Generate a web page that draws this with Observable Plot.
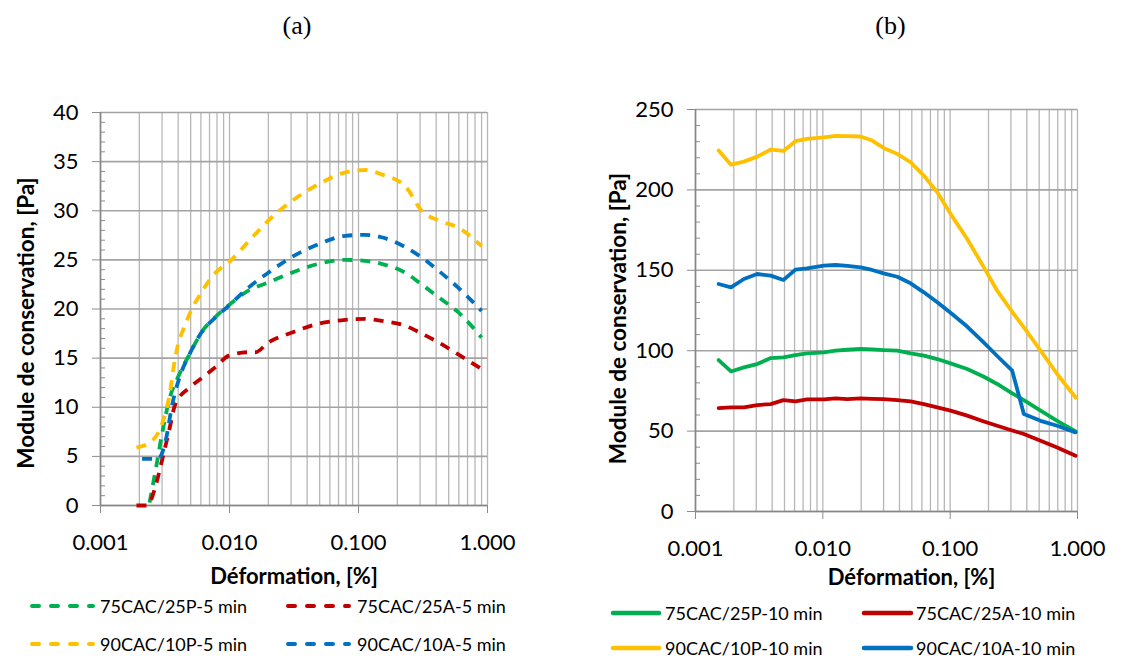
<!DOCTYPE html>
<html><head><meta charset="utf-8">
<script src="https://cdn.jsdelivr.net/npm/d3@7"></script>
<script src="https://cdn.jsdelivr.net/npm/@observablehq/plot@0.6"></script>
<style>
body{margin:0;background:#fff;}
#root{position:relative;width:1145px;height:658px;overflow:hidden;font-family:Lato,sans-serif;background:#fff;}
.panel{position:absolute;top:0;}
.lt{position:absolute;font-family:Lato,sans-serif;font-size:18px;line-height:24px;height:24px;white-space:nowrap;color:#000;}
.sw{position:absolute;overflow:visible;}
</style></head><body><div id="root"></div>
<script>
// ---- Panel (a): 5 min (dashed) ----
const titleA = "(a)";
const x75P5 = [0.0024, 0.0027, 0.003, 0.0034, 0.0041, 0.0049, 0.0062, 0.0078, 0.0099, 0.0141, 0.02, 0.0305, 0.049, 0.079, 0.112, 0.151, 0.23, 0.309, 0.417, 0.59, 0.9];
const g75P5 = [0.3, 3.9, 7.3, 10.7, 13.4, 15.4, 17.8, 19.2, 20.4, 21.9, 22.7, 23.7, 24.6, 25.0, 24.9, 24.6, 23.7, 22.5, 21.2, 19.7, 17.1];
const x75A5 = [0.0019, 0.0023, 0.0027, 0.003, 0.0034, 0.0038, 0.0049, 0.0062, 0.0078, 0.0099, 0.0141, 0.0159, 0.02, 0.0305, 0.049, 0.079, 0.112, 0.151, 0.23, 0.309, 0.417, 0.59, 0.9];
const g75A5 = [0, 0, 2.2, 4.6, 7.6, 10.3, 12.0, 13.05, 14.1, 15.25, 15.6, 15.6, 16.6, 17.6, 18.5, 18.9, 19.0, 18.8, 18.3, 17.5, 16.6, 15.4, 13.9];
const x90P5 = [0.0019, 0.0024, 0.003, 0.0034, 0.0038, 0.0047, 0.0062, 0.0078, 0.0099, 0.0141, 0.02, 0.0305, 0.049, 0.079, 0.112, 0.151, 0.23, 0.309, 0.417, 0.59, 0.9];
const g90P5 = [5.9, 6.4, 8.3, 11, 15.1, 18.9, 21.9, 23.7, 24.75, 26.9, 29.0, 31.0, 32.7, 33.9, 34.15, 33.7, 32.5, 30.0, 29.0, 28.3, 26.4];
const x90A5 = [0.0021, 0.0028, 0.0032, 0.0036, 0.0041, 0.0049, 0.0062, 0.0078, 0.0099, 0.0141, 0.02, 0.0305, 0.049, 0.079, 0.112, 0.151, 0.23, 0.309, 0.417, 0.59, 0.9];
const g90A5 = [4.75, 4.75, 6.6, 10.3, 13.05, 15.4, 17.8, 19.15, 20.35, 22.2, 23.7, 25.3, 26.6, 27.45, 27.55, 27.3, 26.3, 25.25, 23.9, 22.2, 19.8];
const namesA = ["75CAC/25P-5 min", "75CAC/25A-5 min", "90CAC/10P-5 min", "90CAC/10A-5 min"];

// ---- Panel (b): 10 min (solid) ----
const titleB = "(b)";
const xB = [0.00152, 0.0019, 0.0024, 0.00305, 0.0039, 0.0049, 0.0061, 0.0075, 0.0102, 0.0126, 0.0156, 0.0198, 0.0244, 0.030, 0.0384, 0.0489, 0.0621, 0.0792, 0.1007, 0.136, 0.184, 0.234, 0.307, 0.379, 0.513, 0.692, 0.966];
const g75P10 = [94.2, 87.1, 89.6, 91.7, 95.4, 95.8, 97.3, 98.3, 98.9, 100, 100.6, 101.1, 100.8, 100.4, 100, 98.3, 96.9, 94.8, 92.1, 88.6, 83.8, 79.3, 73.5, 69.3, 62.7, 56.4, 49.8];
const g75A10 = [64.3, 64.7, 64.7, 66.2, 66.8, 69.3, 68.5, 69.7, 69.7, 70.3, 69.9, 70.3, 70.1, 69.9, 69.3, 68.5, 66.8, 64.7, 62.7, 59.6, 56.0, 53.3, 50.4, 48.2, 44.0, 39.8, 34.7];
const g90P10 = [224.5, 215.7, 217.6, 220.7, 225.1, 224.2, 230.3, 231.7, 232.7, 233.6, 233.5, 233.2, 230.7, 226.1, 222.4, 217.2, 208.9, 198.5, 185.1, 169.5, 151.8, 137.3, 124.2, 114.5, 100, 85.5, 70.9];
const g90A10 = [141.5, 139.4, 144.6, 147.7, 146.7, 144.0, 150.4, 151.2, 152.9, 153.3, 152.8, 151.8, 150.2, 148.1, 146.0, 141.9, 136.3, 130.1, 123.6, 115, 105, 96.7, 87.6, 60.6, 56.4, 53.3, 49.2];
const namesB = ["75CAC/25P-10 min", "75CAC/25A-10 min", "90CAC/10P-10 min", "90CAC/10A-10 min"];

// ---- shared ----
const colors = ["#00B050", "#C00000", "#FFC000", "#0070C0"];
const xTicks = [0.001, 0.01, 0.1, 1];
const xTickLabels = ["0.001", "0.010", "0.100", "1.000"];
const yLabel = "Module de conservation, [Pa]";
const xLabel = "Déformation, [%]";
const yTicksA = [0, 5, 10, 15, 20, 25, 30, 35, 40];
const yTicksB = [0, 50, 100, 150, 200, 250];

const xGrid = [-3, -2, -1].flatMap(e => [1,2,3,4,5,6,7,8,9].map(m => +(m * Math.pow(10, e)).toPrecision(3))).concat([1]);

function panel(o) {
  const minor = d3.range(o.yMax / o.minorStep + 1).map(i => i * o.minorStep).filter(v => !o.yTicks.includes(v));
  const marks = [
    Plot.ruleX(xGrid, {stroke: "#b7b7b7", strokeWidth: 1.3}),
    Plot.ruleY(o.yTicks, {stroke: "#a3a3a3", strokeWidth: 1.6}),
    Plot.axisY({ticks: minor, tickSize: 5, dx: 5, tickFormat: () => "", stroke: "#8c8c8c", label: null}),
    Plot.axisY({ticks: o.yTicks, tickSize: 8, tickPadding: 14, tickFormat: d => String(d), fontSize: 22, stroke: "#8c8c8c", label: null}),
    Plot.axisX({ticks: xTicks, tickSize: 8, tickPadding: 21, tickFormat: d => xTickLabels[xTicks.indexOf(d)], fontSize: 22, stroke: "#8c8c8c", label: null}),
    Plot.ruleX([0.001], {stroke: "#868686", strokeWidth: 1.6}),
    Plot.ruleY([0], {stroke: "#868686", strokeWidth: 1.6}),
  ];
  o.series.forEach((s, i) => {
    const data = s.x.map((x, j) => ({x, y: s.y[j]}));
    marks.push(Plot.line(data, {x: "x", y: "y", stroke: colors[i], strokeWidth: 3.8,
      strokeDasharray: o.dashed ? "10,8" : null, strokeLinecap: o.dashed ? "butt" : "round", curve: o.curve}));
  });
  marks.push(
    Plot.text([o.title], {text: d => d, frameAnchor: "top", dy: o.titleDy, dx: o.titleDx, lineAnchor: "middle", textAnchor: "middle", fontFamily: "'Liberation Serif', serif", fontSize: 26}),
    Plot.text([yLabel], {text: d => d, frameAnchor: "left", dx: o.yLabelDx, dy: o.yLabelDy, rotate: -90, textAnchor: "middle", lineAnchor: "middle", fontWeight: "bold", fontSize: 22.5}),
    Plot.text([xLabel], {text: d => d, frameAnchor: "bottom", dy: o.xLabelDy, dx: o.xLabelDx, textAnchor: "middle", lineAnchor: "middle", fontWeight: "bold", fontSize: 22})
  );
  return Plot.plot({
    width: o.width, height: 590,
    marginLeft: o.ml, marginRight: o.mr, marginTop: o.mt, marginBottom: o.mb,
    x: {type: "log", domain: [0.001, 1]},
    y: {domain: [0, o.yMax]},
    style: {fontFamily: "Lato, sans-serif", color: "#000", background: "transparent"},
    marks
  });
}

const root = document.getElementById("root");

const pa = panel({
  title: titleA, width: 572, ml: 100, mr: 85, mt: 112, mb: 85, yMax: 40, yTicks: yTicksA, minorStep: 1,
  dashed: true, curve: "monotone-x", titleDy: -87, titleDx: 3, yLabelDx: -74, yLabelDy: 14, xLabelDy: 71, xLabelDx: 0,
  series: [{x: x75P5, y: g75P5}, {x: x75A5, y: g75A5}, {x: x90P5, y: g90P5}, {x: x90A5, y: g90A5}]
});
pa.classList.add("panel"); pa.style.left = "0px";
root.appendChild(pa);

const pb = panel({
  title: titleB, width: 573, ml: 123, mr: 68, mt: 109, mb: 79, yMax: 250, yTicks: yTicksB, minorStep: 10,
  dashed: false, curve: "linear", titleDy: -84, titleDx: 4, yLabelDx: -77, yLabelDy: 8, xLabelDy: 66, xLabelDx: 25,
  series: [{x: xB, y: g75P10}, {x: xB, y: g75A10}, {x: xB, y: g90P10}, {x: xB, y: g90A10}]
});
pb.classList.add("panel"); pb.style.left = "572px";
root.appendChild(pb);

// ---- legends ----
function legendItem(x1, x2, tx, cy, color, dashed, label) {
  const svg = document.createElementNS("http://www.w3.org/2000/svg", "svg");
  svg.setAttribute("class", "sw");
  svg.setAttribute("width", x2 - x1 + 8);
  svg.setAttribute("height", 12);
  svg.style.left = (x1 - 4) + "px";
  svg.style.top = (cy - 6) + "px";
  const ln = document.createElementNS("http://www.w3.org/2000/svg", "line");
  ln.setAttribute("x1", 4); ln.setAttribute("x2", x2 - x1 + 4);
  ln.setAttribute("y1", 6); ln.setAttribute("y2", 6);
  ln.setAttribute("stroke", color);
  ln.setAttribute("stroke-width", dashed ? 4 : 4.5);
  ln.setAttribute("stroke-linecap", "round");
  if (dashed) ln.setAttribute("stroke-dasharray", "7,12");
  svg.appendChild(ln);
  root.appendChild(svg);
  const t = document.createElement("div");
  t.className = "lt";
  t.textContent = label;
  t.style.left = tx + "px";
  t.style.top = (cy - 12) + "px";
  root.appendChild(t);
}
legendItem(32, 93, 100, 606, colors[0], true, namesA[0]);
legendItem(288, 349, 357, 606, colors[1], true, namesA[1]);
legendItem(32, 93, 100, 644, colors[2], true, namesA[2]);
legendItem(288, 349, 357, 644, colors[3], true, namesA[3]);

legendItem(613, 659, 665, 613, colors[0], false, namesB[0]);
legendItem(864, 911, 916, 613, colors[1], false, namesB[1]);
legendItem(613, 659, 665, 648, colors[2], false, namesB[2]);
legendItem(864, 911, 916, 648, colors[3], false, namesB[3]);
</script></body></html>
